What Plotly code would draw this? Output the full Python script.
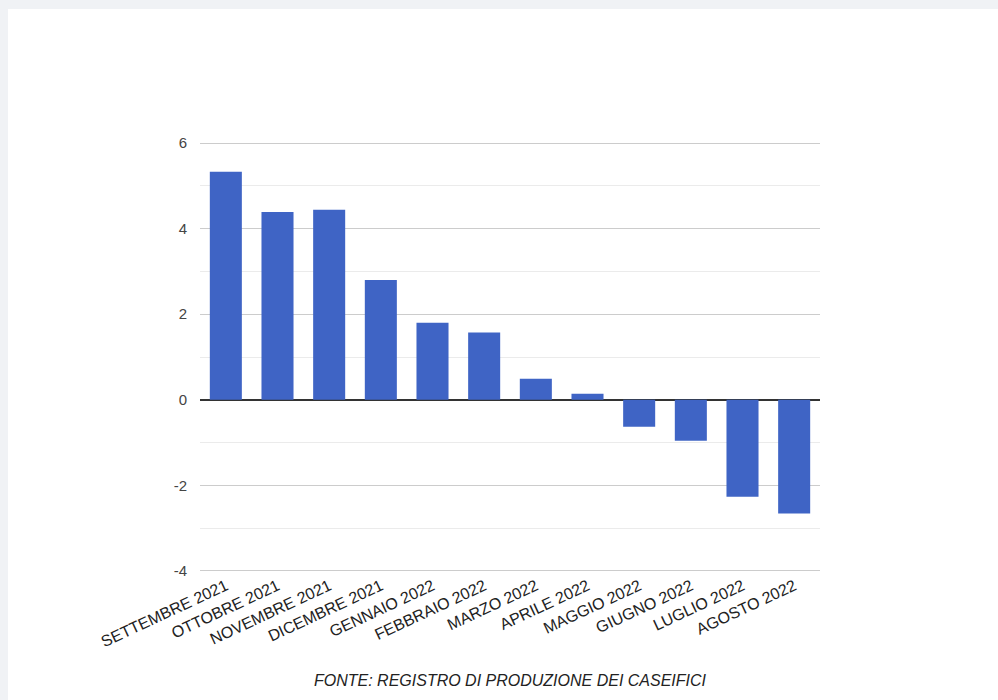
import plotly.graph_objects as go

categories = ["SETTEMBRE 2021", "OTTOBRE 2021", "NOVEMBRE 2021", "DICEMBRE 2021",
              "GENNAIO 2022", "FEBBRAIO 2022", "MARZO 2022", "APRILE 2022",
              "MAGGIO 2022", "GIUGNO 2022", "LUGLIO 2022", "AGOSTO 2022"]
values = [5.33, 4.39, 4.44, 2.80, 1.80, 1.57, 0.49, 0.14, -0.63, -0.96, -2.27, -2.66]
y_ticks = [-4, -2, 0, 2, 4, 6]
y_tick_labels = ["-4", "-2", "0", "2", "4", "6"]
source_text = "FONTE: REGISTRO DI PRODUZIONE DEI CASEIFICI"

W, H = 998, 700
L, R, T, B = 200, 178, 141, 127
pw, ph = W - L - R, H - T - B

def px_x(px):
    return (px - L) / pw

def px_y(py):
    return (H - B - py) / ph

fig = go.Figure(go.Bar(
    x=categories, y=values,
    marker=dict(color="#3f64c5", line=dict(width=0)),
    hoverinfo="x+y",
))

fig.update_layout(
    width=W, height=H,
    margin=dict(l=L, r=R, t=T, b=B, autoexpand=False),
    paper_bgcolor="white", plot_bgcolor="white",
    bargap=0.38,
    showlegend=False,
    font=dict(family="Liberation Sans, Arial, sans-serif", color="#444", size=15),
    xaxis=dict(tickangle=-25, showgrid=False, ticks="", showline=False,
               tickfont=dict(size=16, color="#222")),
    yaxis=dict(range=[-4.05, 6.05], tickvals=y_ticks, ticktext=y_tick_labels,
               showgrid=True, gridcolor="#cccccc",
               gridwidth=1, zeroline=True, zerolinecolor="#333333", zerolinewidth=1.5,
               ticks="", showline=False, ticklabelstandoff=12,
               tickfont=dict(size=15, color="#444"),
               minor=dict(dtick=1, showgrid=True, gridcolor="#ebebeb", gridwidth=1)),
    shapes=[
        dict(type="rect", xref="paper", yref="paper", layer="below",
             x0=px_x(0), x1=px_x(W), y0=px_y(9), y1=px_y(0),
             fillcolor="#f0f2f5", line=dict(width=0)),
        dict(type="rect", xref="paper", yref="paper", layer="below",
             x0=px_x(0), x1=px_x(8), y0=px_y(H), y1=px_y(0),
             fillcolor="#f0f2f5", line=dict(width=0)),
    ],
    annotations=[
        dict(text="<i>" + source_text + "</i>", xref="paper", yref="paper",
             x=px_x(510), y=px_y(680), xanchor="center", yanchor="middle",
             showarrow=False, font=dict(size=16, color="#222"))
    ],
)

fig.write_html(
    "out.html",
    config={"displayModeBar": False},
    post_script="document.body.style.margin='0';document.body.style.overflow='hidden';",
)
